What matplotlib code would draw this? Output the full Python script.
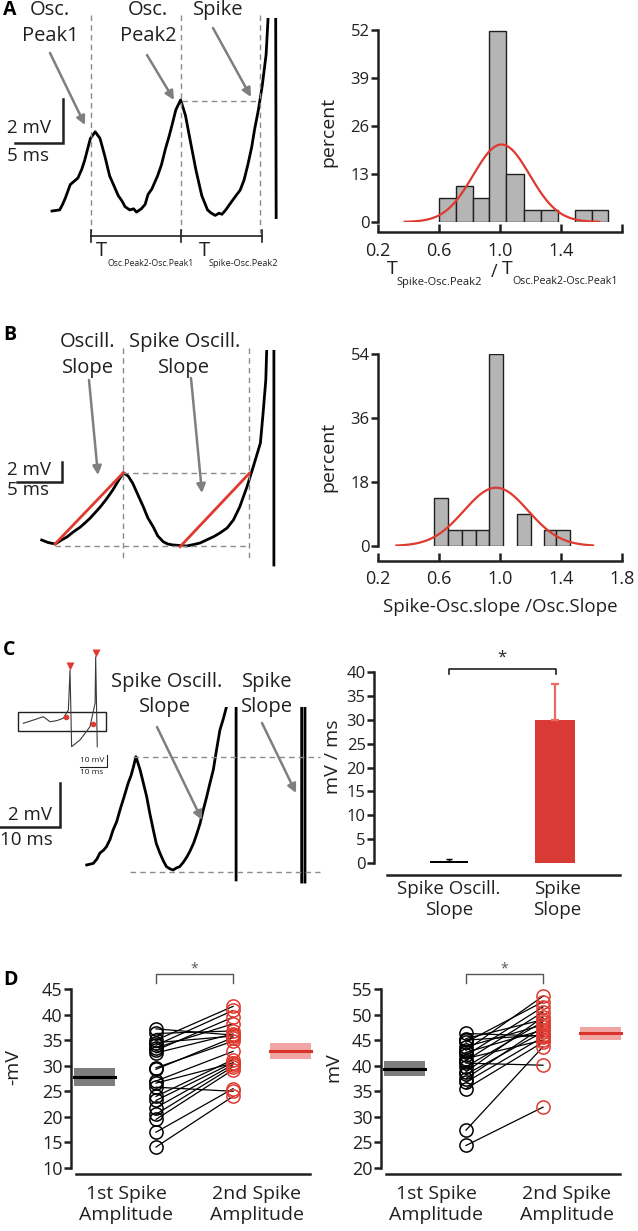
import numpy as np
import matplotlib
matplotlib.use("Agg")
import matplotlib.pyplot as plt
from matplotlib.patches import Rectangle

plt.rcParams['font.family'] = ['Open Sans', 'DejaVu Sans']
INK = '#231f20'
RED = '#e0392f'
PINK = '#f2a6a3'
ARROW = '#7f7f7f'
DASH = '#8c8c8c'
plt.rcParams['text.color'] = INK
plt.rcParams['xtick.color'] = INK
plt.rcParams['ytick.color'] = INK

W, H = 638, 1231

# ---------------- data ----------------
# A: membrane potential (ms, mV): two oscillation peaks then a spike
a_trace = np.array([
    [0.0, 0.0], [0.8, 0.05], [1.1, 0.3], [1.4, 0.6], [1.9, 1.2], [2.3, 1.35], [2.7, 1.5],
    [3.1, 1.9], [3.4, 2.3], [3.7, 2.8], [4.0, 3.3], [4.5, 3.6], [5.0, 3.3], [5.5, 2.5],
    [6.0, 1.6], [6.5, 1.1], [6.9, 0.7], [7.3, 0.45], [7.6, 0.2], [8.1, 0.05], [8.5, 0.1],
    [8.8, -0.05], [9.3, 0.1], [9.7, 0.3], [10.0, 0.75], [10.4, 1.0], [11.0, 1.6],
    [11.4, 2.1], [11.8, 2.8], [12.2, 3.4], [12.5, 3.9], [12.9, 4.6], [13.4, 5.05],
    [13.9, 4.35], [14.4, 3.2], [15.0, 1.85], [15.6, 0.7], [16.2, 0.05], [16.6, -0.1],
    [17.0, -0.2], [17.4, -0.1], [17.7, -0.15], [18.1, 0.05], [18.5, 0.3], [19.0, 0.6],
    [19.6, 0.95], [20.0, 1.4], [20.4, 2.1], [20.8, 2.9], [21.1, 3.7], [21.5, 4.6],
    [21.9, 5.7], [22.3, 7.1], [22.5, 8.7], [22.9, 40.0], [23.3, 9.0], [23.35, -0.3]])
a_events = [4.06, 13.44, 21.67]      # peak1, peak2, spike onset (ms)
a_peak2_v = 5.0

# B: trace with oscillation slope / spike-oscillation slope
b_trace = np.array([
    [0.0, 0.6], [0.7, 0.35], [1.5, 0.2], [2.2, 0.6], [2.8, 0.9], [3.5, 1.4], [4.3, 1.9],
    [4.8, 2.3], [5.4, 2.8], [5.9, 3.3], [6.5, 3.9], [7.2, 4.7], [7.9, 5.6], [8.5, 6.5],
    [9.07, 7.33], [9.6, 7.0], [10.1, 6.3], [10.7, 5.1], [11.3, 3.9], [11.8, 2.8],
    [12.4, 1.9], [12.9, 1.0], [13.5, 0.43], [14.0, 0.2], [14.6, 0.1], [15.4, 0.05],
    [16.1, 0.0], [16.9, 0.15], [17.6, 0.3], [18.3, 0.6], [19.1, 0.93], [19.8, 1.3],
    [20.6, 1.8], [21.3, 2.6], [22.0, 3.9], [22.8, 5.9], [23.5, 7.9], [24.3, 10.3],
    [24.6, 13.3], [24.9, 16.6], [25.0, 19.6], [25.4, 60.0], [25.8, 19.6], [25.8, -1.9]])
b_events = [9.07, 23.07]
b_top_v = 7.33
b_base_v = 0.0
b_slopes = [[(1.48, 0.2), (9.07, 7.33)], [(15.37, -0.07), (23.07, 7.27)]]

# C: trace, spike oscillation slope vs spike slope
c_trace = np.array([
    [0.0, 0.23], [1.1, 0.3], [1.7, 0.5], [2.2, 0.77], [2.8, 0.9], [3.3, 1.06], [3.9, 1.4],
    [4.4, 1.82], [5.0, 2.2], [5.55, 2.73], [6.2, 3.3], [6.9, 3.94], [7.4, 4.3], [7.8, 4.7],
    [8.2, 5.15], [8.5, 4.9], [8.9, 4.55], [9.4, 4.0], [10.0, 3.33], [10.5, 2.6], [11.1, 1.82],
    [11.6, 1.2], [12.2, 0.77], [12.8, 0.4], [13.3, 0.15], [13.9, 0.05], [14.4, 0.0],
    [15.0, 0.1], [15.5, 0.15], [16.1, 0.35], [16.7, 0.6], [17.2, 0.85], [17.8, 1.21],
    [18.3, 1.6], [18.9, 2.12], [19.4, 2.7], [20.0, 3.33], [20.5, 3.9], [21.1, 4.55],
    [21.6, 5.4], [22.2, 6.36], [22.8, 6.9], [23.3, 7.42], [23.9, 30.0], [24.9, 7.42],
    [24.9, -0.45]])
c_spike = np.array([[35.83, -0.55], [35.83, 7.42], [36.1, 30.0], [36.38, 7.42], [36.38, -0.55]])
c_peak_v = 5.15
c_base_v = -0.09

# C inset: whole doublet (ms, mV)
inset_trace = np.array([
    [0.0, 19.5], [3.7, 22.2], [7.4, 25.0], [9.9, 20.8], [12.4, 21.7], [14.8, 23.7],
    [16.7, 30.6], [17.3, 63.9], [17.9, 0.0], [21.0, 5.6], [24.7, 16.7], [26.6, 36.4],
    [26.8, 75.0], [27.4, 0.0]])
inset_dots = np.array([[15.8, 24.5], [25.7, 18.7]])
inset_tri = np.array([[17.3, 67.0], [26.8, 78.0]])

# A, B histograms
hist_a_edges = [0.60, 0.71, 0.82, 0.93, 1.04, 1.16, 1.27, 1.38, 1.49, 1.60, 1.71]
hist_a_pct = [6.45, 9.68, 6.45, 51.6, 12.9, 3.23, 3.23, 0.0, 3.23, 3.23]
fit_a = dict(mean=1.01, sd=0.185, peak=21.0, lo=0.375, hi=1.65)
hist_b_edges = [0.57, 0.66, 0.75, 0.84, 0.93, 1.02, 1.11, 1.20, 1.29, 1.37, 1.46]
hist_b_pct = [13.6, 4.55, 4.55, 4.55, 54.0, 0.0, 9.09, 0.0, 4.55, 4.55]
fit_b = dict(mean=0.974, sd=0.21, peak=16.4, lo=0.32, hi=1.61)

# C: slopes (mV/ms)
slope_names = ['Spike Oscill.\nSlope', 'Spike\nSlope']
slope_mean = [0.5, 30.0]
slope_err = [0.3, 7.5]

# D: spike amplitudes
amp_names = ['1st Spike\nAmplitude', '2nd Spike\nAmplitude']
thr_first = [14.1, 17.0, 19.5, 20.5, 21.8, 23.2, 24.0, 25.8, 26.6, 27.0,
             29.3, 29.6, 32.5, 33.0, 33.5, 34.0, 34.5, 35.0, 36.3, 37.2]
thr_second = [24.0, 25.5, 29.2, 29.8, 30.2, 30.6, 31.2, 25.0, 30.5, 32.8,
              35.5, 34.8, 36.2, 39.5, 38.2, 40.8, 35.8, 41.6, 36.8, 36.0]
thr_band = [(27.8, 1.8), (32.9, 1.5)]
amp_first = [24.4, 27.4, 35.5, 36.8, 37.5, 38.3, 38.8, 39.8, 40.5, 41.0,
             41.4, 42.0, 42.6, 43.0, 43.7, 44.6, 45.0, 45.3, 46.3]
amp_second = [31.9, 43.7, 44.6, 45.6, 47.6, 46.6, 49.5, 48.6, 40.1, 50.5,
              45.0, 51.5, 47.0, 53.6, 48.0, 52.5, 46.0, 49.0, 45.8]
amp_band = [(39.4, 1.5), (46.3, 1.3)]

# ---------------- figure ----------------
fig = plt.figure(figsize=(W / 100, H / 100), dpi=100)


def px_axes(x0, y0, x1, y1):
    return fig.add_axes([x0 / W, 1 - y1 / H, (x1 - x0) / W, (y1 - y0) / H])


def trace_axes(x0, y0, x1, y1, t_org, px_ms, v_org, px_mv):
    ax = px_axes(x0, y0, x1, y1)
    ax.set_xlim((x0 - t_org) / px_ms, (x1 - t_org) / px_ms)
    ax.set_ylim((v_org - y1) / px_mv, (v_org - y0) / px_mv)
    ax.axis('off')
    return ax


def dashed(ax, xs, ys):
    ax.plot(xs, ys, color=DASH, lw=1.0, dashes=(4, 3), clip_on=False)


def scalebar(ax, t, v, dt, dv, lw=1.8):
    ax.plot([t - dt, t, t], [v, v, v + dv], color=INK, lw=lw, clip_on=False,
            solid_joinstyle='miter')


# --- A trace
axa = trace_axes(0, 18, 320, 280, 52, 9.6, 211, 22)
axa.plot(a_trace[:, 0], a_trace[:, 1], color='k', lw=2.0)
for t in a_events:
    dashed(axa, [t, t], [8.9, -1.0])
dashed(axa, [a_events[1] + 0.1, a_events[2] - 0.2], [a_peak2_v, a_peak2_v])
axa.plot([a_events[0], 21.9], [-1.14, -1.14], color=INK, lw=1.2, clip_on=False)
for t in [a_events[0], a_events[1], 21.9]:
    axa.plot([t, t], [-0.86, -1.41], color=INK, lw=1.2, clip_on=False)
scalebar(axa, 1.15, 3.09, 5, 2)

# --- B trace
axb = trace_axes(0, 350, 320, 570, 41.7, 9.0, 546, 10)
axb.plot(b_trace[:, 0], b_trace[:, 1], color='k', lw=2.0)
for t in b_events:
    dashed(axb, [t, t], [19.8, -1.4])
dashed(axb, [b_events[0], b_events[1]], [b_top_v, b_top_v])
dashed(axb, [1.48, b_events[1]], [b_base_v, b_base_v])
for (p0, p1) in b_slopes:
    axb.plot([p0[0], p1[0]], [p0[1], p1[1]], color=RED, lw=2.0)
scalebar(axb, 2.26, 6.4, 5, 2)

# --- C trace
axc = trace_axes(0, 706.7, 320, 900, 86.7, 6.0, 870, 22)
axc.plot(c_trace[:, 0], c_trace[:, 1], color='k', lw=2.0)
axc.plot(c_spike[:, 0], c_spike[:, 1], color='k', lw=2.0)
dashed(axc, [7.67, 38.9], [c_peak_v, c_peak_v])
dashed(axc, [7.2, 38.9], [c_base_v, c_base_v])
scalebar(axc, -4.45, 1.95, 10, 2)

# --- C inset
axi = trace_axes(0, 640, 130, 780, 23.3, 2.7, 746.7, 1.2)
axi.plot(inset_trace[:, 0], inset_trace[:, 1], color='#3a3a3a', lw=0.8)
axi.plot(inset_dots[:, 0], inset_dots[:, 1], 'o', color=RED, ms=4, mec='none')
axi.plot(inset_tri[:, 0], inset_tri[:, 1], 'v', color=RED, ms=6, mec='none', clip_on=False)
axi.add_patch(Rectangle((-1.96, 13.1), 32.56, 16.1, fill=False, ec=INK, lw=1.0))
scalebar(axi, 31.0, -16.9, 10, 10, lw=0.8)
axi.text(30.2, -11.1, '10 mV', fontsize=6, ha='right', va='center')
axi.text(25.3, -21.9, '10 ms', fontsize=6, ha='center', va='center')


# --- histograms
def hist_panel(box, edges, pct, fit, ymax, yticks, xlabels, offset, xpad):
    ax = px_axes(*box)
    edges = np.asarray(edges)
    pct = np.asarray(pct)
    keep = pct > 0
    ax.bar(edges[:-1][keep], pct[keep], width=np.diff(edges)[keep], align='edge',
           color='#b5b5b5', edgecolor=INK, linewidth=1.0)
    xs = np.linspace(fit['lo'], fit['hi'], 300)
    ax.plot(xs, fit['peak'] * np.exp(-0.5 * ((xs - fit['mean']) / fit['sd']) ** 2),
            color=RED, lw=1.6)
    ax.set_xlim(0.2, 1.8)
    ax.set_ylim(0, ymax)
    for s in ['top', 'right']:
        ax.spines[s].set_visible(False)
    for s in ['left', 'bottom']:
        ax.spines[s].set_linewidth(1.8)
        ax.spines[s].set_color(INK)
    ax.spines['left'].set_bounds(0, ymax)
    ax.spines['bottom'].set_bounds(0.2, 1.8)
    ax.spines['bottom'].set_position(('outward', offset))
    ax.set_yticks(yticks)
    ax.set_xticks([0.2, 0.6, 1.0, 1.4, 1.8])
    ax.set_xticklabels(xlabels)
    ax.tick_params(axis='y', direction='out', length=5, width=1.8, labelsize=12, pad=1)
    ax.tick_params(axis='x', direction='in', length=6, width=1.8, labelsize=13, pad=xpad)
    ax.patch.set_alpha(0)
    return ax


hist_panel((378, 30, 622, 222), hist_a_edges, hist_a_pct, fit_a, 52,
           [0, 13, 26, 39, 52], ['0.2', '0.6', '1.0', '1.4', ''], 7.2, 7)
hist_panel((378, 354, 622, 546), hist_b_edges, hist_b_pct, fit_b, 54,
           [0, 18, 36, 54], ['0.2', '0.6', '1.0', '1.4', '1.8'], 11.0, 6)

# --- C bars
axs = px_axes(374, 672, 622, 863)
axs.bar([0], [slope_mean[0]], width=0.36, color='k')
axs.errorbar([0], [slope_mean[0]], yerr=[[0], [slope_err[0]]], color='k', lw=1.0,
             capsize=2, fmt='none')
axs.bar([1], [slope_mean[1]], width=0.38, color='#d93a33')
axs.errorbar([1], [slope_mean[1]], yerr=[[0], [slope_err[1]]], color='#e86a66', lw=1.6,
             capsize=3, capthick=1.6, fmt='none')
axs.set_xlim(-0.708, 1.632)
axs.set_ylim(0, 40)
for s in ['top', 'right']:
    axs.spines[s].set_visible(False)
for s in ['left', 'bottom']:
    axs.spines[s].set_linewidth(1.8)
    axs.spines[s].set_color(INK)
axs.spines['left'].set_bounds(0, 40)
axs.spines['bottom'].set_bounds(-0.585, 1.613)
axs.spines['bottom'].set_position(('outward', 8.6))
axs.set_yticks(range(0, 41, 5))
axs.set_xticks([0, 1.02])
axs.set_xticklabels(slope_names, linespacing=1.2)
axs.tick_params(axis='y', direction='out', length=5, width=1.8, labelsize=12, pad=1)
axs.tick_params(axis='x', length=0, labelsize=13.5, pad=4)
axs.plot([0, 0, 1.01, 1.01], [39.6, 40.6, 40.6, 39.6], color=INK, lw=1.2, clip_on=False)
axs.text(0.5, 41.3, '*', ha='center', va='bottom', fontsize=12)
axs.patch.set_alpha(0)


# --- D
def amp_panel(box, first, second, bands, ylim, yticks, bracket_y):
    ax = px_axes(*box)
    for f, s in zip(first, second):
        ax.plot([1, 2], [f, s], color='k', lw=0.9)
    ax.plot(np.ones(len(first)), first, 'o', mfc='none', mec='k', ms=9.5, mew=1.1)
    ax.plot(np.full(len(second), 2), second, 'o', mfc='none', mec=RED, ms=9.5, mew=1.1)
    for c, (m, e), fc, lc in zip([0.205, 2.745], bands, ['#7d7d7d', PINK], ['k', '#d9342b']):
        ax.add_patch(Rectangle((c - 0.266, m - e), 0.532, 2 * e, color=fc, lw=0))
        ax.plot([c - 0.266, c + 0.266], [m, m], color=lc, lw=2.2)
    ax.set_xlim(-0.104, 3.065)
    ax.set_ylim(*ylim)
    for s in ['top', 'right']:
        ax.spines[s].set_visible(False)
    for s in ['left', 'bottom']:
        ax.spines[s].set_linewidth(1.8)
        ax.spines[s].set_color(INK)
    ax.spines['left'].set_bounds(*ylim)
    ax.spines['bottom'].set_bounds(-0.04, 3.0)
    ax.spines['bottom'].set_position(('outward', 4.3))
    ax.set_yticks(yticks)
    ax.set_xticks([0.61, 2.31])
    ax.set_xticklabels(amp_names, linespacing=1.2)
    ax.tick_params(axis='y', direction='out', length=5, width=1.8, labelsize=13, pad=1)
    ax.tick_params(axis='x', length=0, labelsize=14, pad=8)
    b0, b1, b2 = bracket_y
    ax.plot([1, 1, 2, 2], [b1, b0, b0, b1], color='#555555', lw=1.0, clip_on=False)
    ax.text(1.5, b2, '*', ha='center', va='center', fontsize=10, color='#555555')
    ax.patch.set_alpha(0)
    return ax


amp_panel((71, 989, 315, 1168), thr_first, thr_second, thr_band, (10, 45),
          range(10, 46, 5), (47.9, 46.2, 49.0))
amp_panel((381, 989, 625, 1168), amp_first, amp_second, amp_band, (20, 55),
          range(20, 56, 5), (57.9, 56.2, 59.0))

# ---------------- overlay: labels, arrows ----------------
ov = fig.add_axes([0, 0, 1, 1], zorder=10)
ov.set_xlim(0, W)
ov.set_ylim(H, 0)
ov.axis('off')
ov.patch.set_alpha(0)


def txt(x, y, s, size=14.5, **kw):
    kw.setdefault('ha', 'center')
    kw.setdefault('va', 'center')
    ov.text(x, y, s, fontsize=size, **kw)


def arrow(x0, y0, x1, y1):
    ov.annotate('', xy=(x1, y1), xytext=(x0, y0),
                arrowprops=dict(arrowstyle='-|>', color=ARROW, lw=1.8,
                                mutation_scale=13, shrinkA=0, shrinkB=0))


for lab, y in [('A', 10), ('B', 335), ('C', 650), ('D', 980)]:
    ov.text(3, y, lab, fontsize=14, fontweight='bold', ha='left', va='center', color='k')

# A
txt(50, 10, 'Osc.')
txt(50, 36, 'Peak1')
txt(148, 10, 'Osc.')
txt(148, 36, 'Peak2')
txt(218, 10, 'Spike')
arrow(50, 53, 85, 125)
arrow(147, 55, 174, 100)
arrow(213, 28, 251, 97)
txt(7, 128, '2 mV', size=13.5, ha='left')
txt(7, 156, '5 ms', size=13.5, ha='left')
txt(96, 251, 'T', size=14.5, ha='left')
txt(107, 263, 'Osc.Peak2-Osc.Peak1', size=6.2, ha='left')
txt(199, 251, 'T', size=14.5, ha='left')
txt(209, 263, 'Spike-Osc.Peak2', size=6.6, ha='left')
txt(328, 132, 'percent', size=14, rotation=90)
txt(387, 269, 'T', size=14, ha='left')
txt(396, 282, 'Spike-Osc.Peak2', size=8, ha='left')
txt(494, 272, '/', size=13)
txt(502, 269, 'T', size=14, ha='left')
txt(512, 282, 'Osc.Peak2-Osc.Peak1', size=7.7, ha='left')

# B
txt(88, 342, 'Oscill.')
txt(88, 368, 'Slope')
txt(185, 342, 'Spike Oscill.')
txt(184, 368, 'Slope')
arrow(89, 380, 98, 475)
arrow(191, 378, 202, 493)
txt(7, 470, '2 mV', size=13.5, ha='left')
txt(7, 490, '5 ms', size=13.5, ha='left')
txt(328, 457, 'percent', size=14, rotation=90)
txt(500, 607, 'Spike-Osc.slope /Osc.Slope', size=13.5)

# C
txt(167, 682, 'Spike Oscill.')
txt(165, 707, 'Slope')
txt(267, 682, 'Spike')
txt(267, 707, 'Slope')
arrow(157, 727, 202, 820)
arrow(262, 723, 296, 793)
txt(8, 815, '2 mV', size=13.5, ha='left')
txt(0, 840, '10 ms', size=13.5, ha='left')
txt(333, 757, 'mV / ms', size=14, rotation=90)

# D
txt(13, 1067, '-mV', size=14, rotation=90)
txt(333, 1067, 'mV', size=14, rotation=90)

fig.savefig('out.png', dpi=100)
